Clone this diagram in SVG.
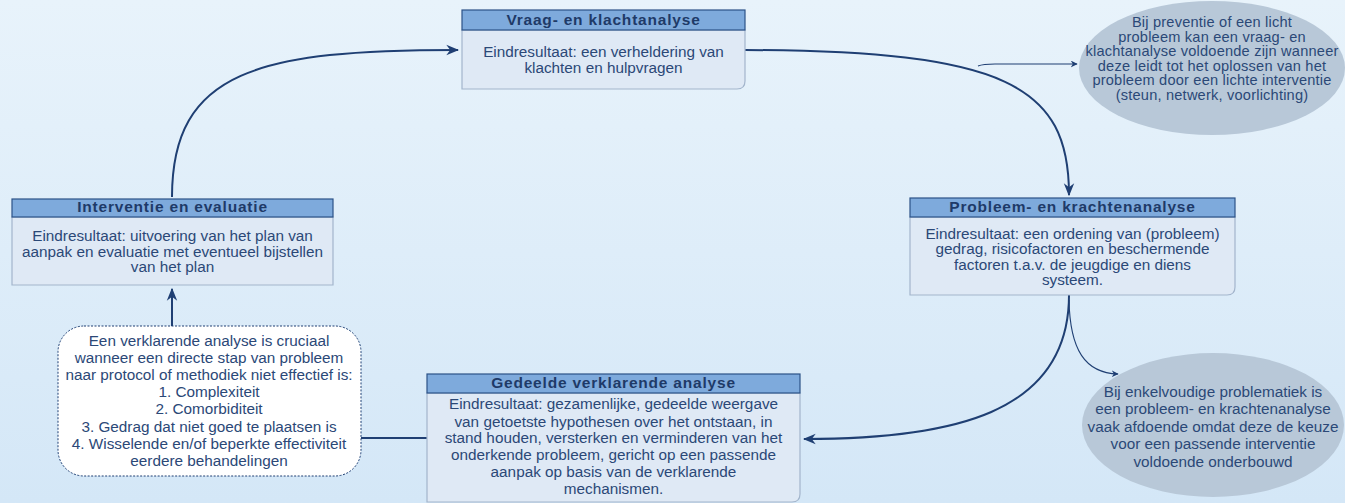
<svg xmlns="http://www.w3.org/2000/svg" width="1345" height="503" viewBox="0 0 1345 503">
<defs>
<linearGradient id="bg" x1="0" y1="0" x2="0" y2="1">
<stop offset="0" stop-color="#e8f3fb"/>
<stop offset="1" stop-color="#d4e7f7"/>
</linearGradient>
<marker id="ah" viewBox="0 0 10 10" refX="9" refY="5" markerWidth="7" markerHeight="7" orient="auto" markerUnits="userSpaceOnUse">
<path d="M0,0 L10,5 L0,10 L3,5 Z" fill="#1f3f73"/>
</marker>
<marker id="ahl" viewBox="0 0 10 10" refX="9" refY="5" markerWidth="13" markerHeight="13" orient="auto" markerUnits="userSpaceOnUse">
<path d="M0,1 L10,5 L0,9 L3,5 Z" fill="#1f3f73"/>
</marker>
</defs>
<style>
.hdr{fill:#7eaadc;stroke:#2c5287;stroke-width:1.2}
.body{fill:#dfe9f5;stroke:#a3b5cc;stroke-width:1.2}
.ht{font-family:"Liberation Sans",Arial,sans-serif;font-size:15.5px;font-weight:bold;letter-spacing:0.8px;fill:#1e3a68;text-anchor:middle}
.bt{font-family:"Liberation Sans",Arial,sans-serif;font-size:15.3px;fill:#2b4877;text-anchor:middle}
.et{font-family:"Liberation Sans",Arial,sans-serif;font-size:14.6px;letter-spacing:0.2px;fill:#2b4877;text-anchor:middle}
.ell{fill:#b8c8d8}
.conn{fill:none;stroke:#1f3f73;stroke-width:2}
.thin{fill:none;stroke:#1f3f73;stroke-width:1.1}
.callout{fill:#ffffff;stroke:#1f3f73;stroke-width:1;stroke-dasharray:2 1.5}
</style>
<rect x="0" y="0" width="1345" height="503" fill="url(#bg)"/>

<g id="connectors">
<path class="conn" d="M172,197 C172,70 260,50 458,50" marker-end="url(#ahl)"/>
<path class="conn" d="M745,50 C1005,51 1069,85 1069,195" marker-end="url(#ahl)"/>
<path class="thin" d="M978,66 C983,64 988,64 995,64 L1077,64" marker-end="url(#ah)"/>
<path class="conn" d="M1069,295 C1069,415 950,439 804,439" marker-end="url(#ahl)"/>
<path class="thin" d="M1069,300 C1070,350 1085,373 1118,374" marker-end="url(#ah)"/>
<path class="conn" d="M172,326 L172,289" marker-end="url(#ahl)"/>
<path class="conn" d="M361,438 L428,438"/>
</g>

<g id="vraag">
<path class="body" d="M462,30 H745 V81 Q745,89 737,89 H462 Z"/>
<rect class="hdr" x="462" y="10" width="283" height="20"/>
<text class="ht" x="603.5" y="25">Vraag- en klachtanalyse</text>
<text class="bt" x="603.5" y="57">Eindresultaat: een verheldering van</text>
<text class="bt" x="603.5" y="73">klachten en hulpvragen</text>
</g>

<g id="note-preventie">
<ellipse class="ell" cx="1212" cy="68" rx="133" ry="67"/>
<text class="et" x="1212" y="27">Bij preventie of een licht</text>
<text class="et" x="1212" y="41.5">probleem kan een vraag- en</text>
<text class="et" x="1212" y="56">klachtanalyse voldoende zijn wanneer</text>
<text class="et" x="1212" y="70.5">deze leidt tot het oplossen van het</text>
<text class="et" x="1212" y="85">probleem door een lichte interventie</text>
<text class="et" x="1212" y="99.5">(steun, netwerk, voorlichting)</text>
</g>

<g id="probleem">
<path class="body" d="M910,217 H1235 V287 Q1235,295 1227,295 H910 Z"/>
<rect class="hdr" x="910" y="198" width="325" height="19"/>
<text class="ht" x="1072.5" y="212">Probleem- en krachtenanalyse</text>
<text class="bt" x="1072.5" y="238.5">Eindresultaat: een ordening van (probleem)</text>
<text class="bt" x="1072.5" y="254">gedrag, risicofactoren en beschermende</text>
<text class="bt" x="1072.5" y="269.8">factoren t.a.v. de jeugdige en diens</text>
<text class="bt" x="1072.5" y="285.3">systeem.</text>
</g>

<g id="interventie">
<path class="body" d="M12,217 H333 V285 H12 Z"/>
<rect class="hdr" x="12" y="199" width="321" height="18"/>
<text class="ht" x="172.5" y="212">Interventie en evaluatie</text>
<text class="bt" x="172.5" y="241">Eindresultaat: uitvoering van het plan van</text>
<text class="bt" x="172.5" y="256.7">aanpak en evaluatie met eventueel bijstellen</text>
<text class="bt" x="172.5" y="272.3">van het plan</text>
</g>

<g id="note-verklarend">
<rect class="callout" x="58" y="326" width="303" height="150" rx="26" ry="26"/>
<text class="bt" x="209" y="345.7">Een verklarende analyse is cruciaal</text>
<text class="bt" x="209" y="362.8">wanneer een directe stap van probleem</text>
<text class="bt" x="209" y="380">naar protocol of methodiek niet effectief is:</text>
<text class="bt" x="209" y="397">1. Complexiteit</text>
<text class="bt" x="209" y="414">2. Comorbiditeit</text>
<text class="bt" x="209" y="431.7">3. Gedrag dat niet goed te plaatsen is</text>
<text class="bt" x="209" y="449">4. Wisselende en/of beperkte effectiviteit</text>
<text class="bt" x="209" y="466">eerdere behandelingen</text>
</g>

<g id="gedeelde">
<path class="body" d="M427,393 H800 V494 Q800,502 792,502 H427 Z"/>
<rect class="hdr" x="427" y="374" width="373" height="19"/>
<text class="ht" x="613.5" y="388">Gedeelde verklarende analyse</text>
<text class="bt" x="613.5" y="409.3">Eindresultaat: gezamenlijke, gedeelde weergave</text>
<text class="bt" x="613.5" y="426.7">van getoetste hypothesen over het ontstaan, in</text>
<text class="bt" x="613.5" y="443.3">stand houden, versterken en verminderen van het</text>
<text class="bt" x="613.5" y="460">onderkende probleem, gericht op een passende</text>
<text class="bt" x="613.5" y="477.3">aanpak op basis van de verklarende</text>
<text class="bt" x="613.5" y="494">mechanismen.</text>
</g>

<g id="note-enkelvoudig">
<ellipse class="ell" cx="1213" cy="425" rx="131" ry="72"/>
<text class="bt" x="1213" y="396.7">Bij enkelvoudige problematiek is</text>
<text class="bt" x="1213" y="414.3">een probleem- en krachtenanalyse</text>
<text class="bt" x="1213" y="431.7">vaak afdoende omdat deze de keuze</text>
<text class="bt" x="1213" y="449.3">voor een passende interventie</text>
<text class="bt" x="1213" y="466.7">voldoende onderbouwd</text>
</g>
</svg>
